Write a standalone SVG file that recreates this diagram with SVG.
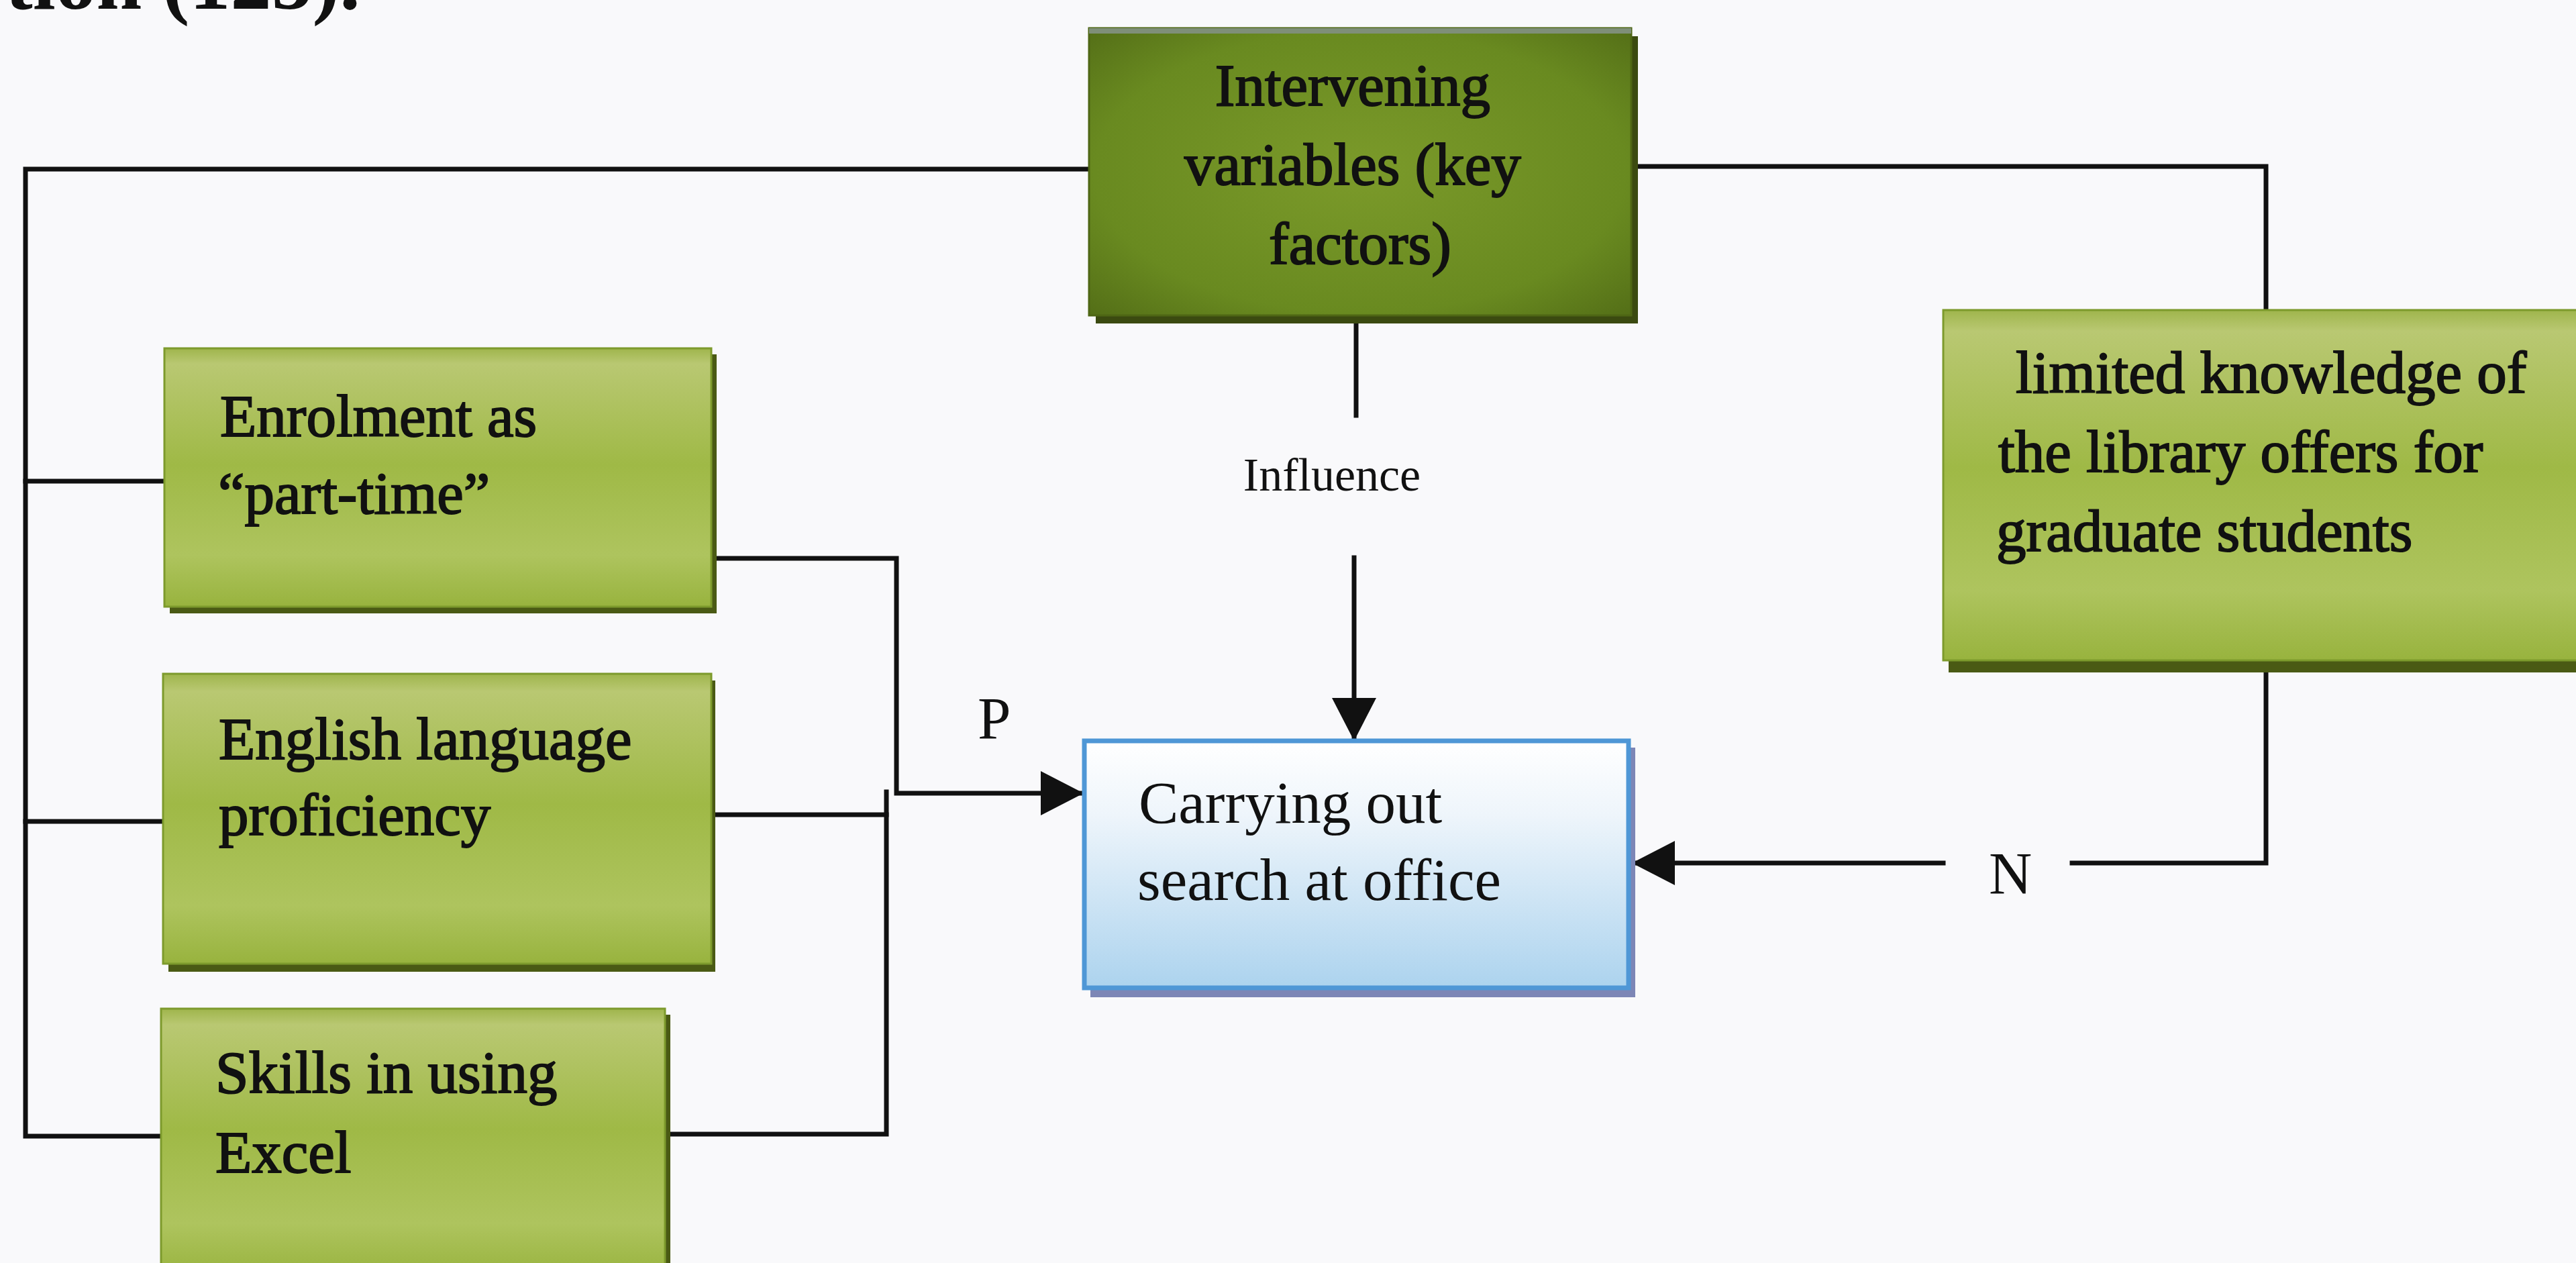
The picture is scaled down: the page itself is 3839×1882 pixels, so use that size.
<svg xmlns="http://www.w3.org/2000/svg" width="3839" height="1882" viewBox="0 0 3839 1882">
  <style>
    .lbl { font-family: "Liberation Serif", "Times New Roman", serif; font-size: 89px; fill: #111; }
    .heavy { stroke: #111; stroke-width: 2px; }
    .small { font-size: 70px; }
    .conn { fill: none; stroke: #111; stroke-width: 7; stroke-linejoin: miter; stroke-linecap: square; }
    .shadow-g { fill: #4a5a14; }
    .shadow-d { fill: #3b4a10; }
    .shadow-b { fill: #7d86b6; }
  </style>
  <defs>
    <linearGradient id="gLight" x1="0" y1="0" x2="0" y2="1">
      <stop offset="0" stop-color="#9fb54c"/>
      <stop offset="0.06" stop-color="#b9c872"/>
      <stop offset="0.45" stop-color="#9fb946"/>
      <stop offset="0.8" stop-color="#aec45e"/>
      <stop offset="1" stop-color="#98b33e"/>
    </linearGradient>
    <radialGradient id="gDark" cx="0.5" cy="0.5" r="0.7">
      <stop offset="0" stop-color="#7b9a2a"/>
      <stop offset="0.7" stop-color="#698a20"/>
      <stop offset="1" stop-color="#546f17"/>
    </radialGradient>
    <linearGradient id="gBlue" x1="0" y1="0" x2="0" y2="1">
      <stop offset="0" stop-color="#ffffff"/>
      <stop offset="0.3" stop-color="#eef5fb"/>
      <stop offset="1" stop-color="#acd3ee"/>
    </linearGradient>
    <marker id="head" markerUnits="userSpaceOnUse" viewBox="0 0 64 66" markerWidth="64" markerHeight="66" refX="64" refY="33" orient="auto">
      <path d="M0,0 L64,33 L0,66 Z" fill="#111"/>
    </marker>
  </defs>

  <rect x="0" y="0" width="3839" height="1882" fill="#f9f9fb"/>

  <!-- running text above the figure -->
  <text x="8" y="13" font-family="Liberation Serif, serif" font-size="122" font-weight="bold" fill="#111">tion (125).</text>

  <!-- connectors -->
  <g id="connectors">
    <path class="conn" d="M1623,252 H38 V1693 H240"/>
    <path class="conn" d="M38,717 H245"/>
    <path class="conn" d="M38,1224 H241"/>
    <path class="conn" d="M2431,248 H3377 V461"/>
    <path class="conn" d="M2021,470 V619"/>
    <path class="conn" d="M2018,831 V1104" marker-end="url(#head)"/>
    <path class="conn" d="M1063,832 H1336 V1182 H1615" marker-end="url(#head)"/>
    <path class="conn" d="M1321,1180 V1690 H991"/>
    <path class="conn" d="M1062,1214 H1321"/>
    <path class="conn" d="M3377,1000 V1286 H3088"/>
    <path class="conn" d="M2896,1286 H2432" marker-end="url(#head)"/>
  </g>

  <!-- edge labels -->
  <g id="edge-labels">
    <text class="lbl small" x="1985" y="731" text-anchor="middle">Influence</text>
    <text class="lbl" x="1457" y="1100" font-size="82">P</text>
    <text class="lbl" x="2964" y="1331">N</text>
  </g>

  <!-- key factors -->
  <g id="intervening">
    <rect class="shadow-d" x="1633" y="54" width="808" height="428"/>
    <rect x="1623" y="42" width="808" height="428" fill="url(#gDark)" stroke="#4e6614" stroke-width="3"/>
    <rect x="1623" y="42" width="808" height="8" fill="#7f8f78"/>
    <text class="lbl heavy" text-anchor="middle">
      <tspan x="2027" y="157">Intervening</tspan>
      <tspan x="2027" y="275">variables (key</tspan>
      <tspan x="2027" y="393">factors)</tspan>
    </text>
  </g>

  <g id="enrolment">
    <rect class="shadow-g" x="253" y="528" width="815" height="386"/>
    <rect x="245" y="519" width="815" height="385" fill="url(#gLight)" stroke="#7d9a2c" stroke-width="3"/>
    <text class="lbl heavy">
      <tspan x="328" y="650">Enrolment as</tspan>
      <tspan x="325" y="765">“part-time”</tspan>
    </text>
  </g>

  <g id="english">
    <rect class="shadow-g" x="251" y="1014" width="815" height="434"/>
    <rect x="243" y="1004" width="817" height="432" fill="url(#gLight)" stroke="#7d9a2c" stroke-width="3"/>
    <text class="lbl heavy">
      <tspan x="326" y="1131">English language</tspan>
      <tspan x="326" y="1244">proficiency</tspan>
    </text>
  </g>

  <g id="skills">
    <rect class="shadow-g" x="248" y="1512" width="751" height="400"/>
    <rect x="240" y="1503" width="751" height="400" fill="url(#gLight)" stroke="#7d9a2c" stroke-width="3"/>
    <text class="lbl heavy">
      <tspan x="321" y="1628">Skills in using</tspan>
      <tspan x="321" y="1747">Excel</tspan>
    </text>
  </g>

  <g id="limited-knowledge">
    <rect class="shadow-g" x="2904" y="472" width="960" height="530"/>
    <rect x="2896" y="462" width="960" height="522" fill="url(#gLight)" stroke="#7d9a2c" stroke-width="3"/>
    <text class="lbl heavy">
      <tspan x="3004" y="585">limited knowledge of</tspan>
      <tspan x="2978" y="703">the library offers for</tspan>
      <tspan x="2975" y="821">graduate students</tspan>
    </text>
  </g>

  <!-- outcome -->
  <g id="carrying-out-search">
    <rect class="shadow-b" x="1625" y="1114" width="812" height="372"/>
    <rect x="1616" y="1104" width="811" height="368" fill="url(#gBlue)" stroke="#4f97d6" stroke-width="7"/>
    <text class="lbl">
      <tspan x="1697" y="1226">Carrying out</tspan>
      <tspan x="1695" y="1341">search at office</tspan>
    </text>
  </g>
</svg>
